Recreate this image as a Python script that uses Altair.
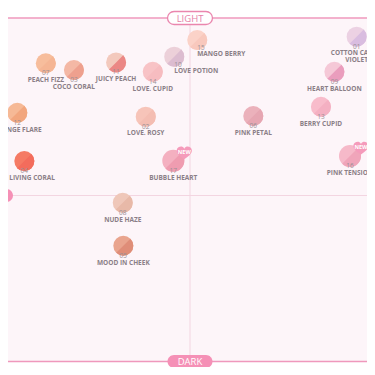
import altair as alt
import pandas as pd

# ---- data ----
codes = ["07", "03", "11", "14", "10", "15", "01", "09", "12", "02", "06", "13", "04", "17", "16", "08", "05"]
names = ["PEACH FIZZ", "COCO CORAL", "JUICY PEACH", "LOVE. CUPID", "LOVE POTION", "MANGO BERRY",
         "COTTON CANDY\nVIOLET", "HEART BALLOON", "ORANGE FLARE", "LOVE. ROSY", "PINK PETAL",
         "BERRY CUPID", "HOT LIVING CORAL", "BUBBLE HEART", "PINK TENSION", "NUDE HAZE", "MOOD IN CHEEK"]
warm_cool = [-7.59, -6.11, -3.89, -1.96, -0.83, 0.38, 8.77, 7.60, -9.09, -2.33, 3.33, 6.89,
             -8.72, -0.88, 8.42, -3.54, -3.51]
light_dark = [7.45, 7.07, 7.50, 6.97, 7.82, 8.76, 8.95, 6.97, 4.66, 4.44, 4.48, 5.00,
              1.94, 1.96, 2.23, -0.41, -2.83]
is_new = [False, False, False, False, False, False, False, False, False, False, False, False,
          False, True, True, False, False]
shade_main = ["#f7bd9c", "#f4b8a5", "#f3c9bd", "#f8c3c6", "#ecd0d9", "#fbd2c8", "#ecd1e3", "#f5c8d7",
              "#f6b996", "#f7c4b9", "#ebb1bb", "#f8bccb", "#f57a64", "#f4b0c0", "#f6b9c9", "#efc7b9", "#e9a48e"]
shade_accent = ["#f5b594", "#eea08e", "#eb8785", "#f6bcc0", "#dcbcd0", "#f8c8bd", "#d9bde0", "#ea9dbd",
                "#f2a67e", "#f4bdb2", "#e6a6b2", "#f4b0c2", "#f36c5c", "#ef9cb0", "#f0a5ba", "#e8b9a8", "#df8d78"]
left_aligned = ["LOVE POTION", "MANGO BERRY"]

axis_labels = ["LIGHT", "DARK", "WARM", "COOL"]
axis_wc = [0.0, 0.0, -10.5, 10.55]
axis_ld = [10.0, -9.35, 0.0, 0.0]
frame_top = 10.0
frame_bottom = -9.35

df = pd.DataFrame({"code": codes, "name": names, "wc": warm_cool, "ld": light_dark, "new": is_new})
df["left"] = df["name"].isin(left_aligned)
pills = pd.DataFrame({"label": axis_labels, "wc": axis_wc, "ld": axis_ld})

X = alt.X("wc:Q", scale=alt.Scale(domain=[-10, 10], range=[-8, 372], nice=False), axis=None)
Y = alt.Y("ld:Q", scale=alt.Scale(domain=[-10, 10], range=[365, 10], nice=False), axis=None)

font = "Open Sans"

bg = alt.Chart(pd.DataFrame({"wc": [-10.5], "wc2": [10.6], "ld": [frame_top], "ld2": [frame_bottom]})).mark_rect(
    color="#fdf5f9").encode(x=X, x2="wc2:Q", y=Y, y2="ld2:Q")

hline = alt.Chart(pd.DataFrame({"ld": [0.0]})).mark_rule(color="#f3d5e1", strokeWidth=1).encode(y=Y)
vline = alt.Chart(pd.DataFrame({"wc": [0.0], "ld": [frame_top], "ld2": [frame_bottom]})).mark_rule(
    color="#f3d5e1", strokeWidth=1).encode(x=X, y=Y, y2="ld2:Q")
frame = alt.Chart(pd.DataFrame({"ld": [frame_top, frame_bottom]})).mark_rule(
    color="#ef98bc", strokeWidth=1.5).encode(y=Y)

circles = alt.Chart(df).mark_circle(opacity=1).encode(
    x=X, y=Y,
    size=alt.condition("datum.new", alt.value(484), alt.value(400)),
    color=alt.Color("code:N", scale=alt.Scale(domain=codes, range=shade_main), legend=None),
)
arc_small = alt.Chart(df).transform_filter("!datum.new").mark_arc(
    radius=10, theta=0.785, theta2=3.927, opacity=1).encode(
    x=X, y=Y,
    color=alt.Color("code:N", scale=alt.Scale(domain=codes, range=shade_accent), legend=None),
)
arc_big = alt.Chart(df).transform_filter("datum.new").mark_arc(
    radius=11, theta=0.785, theta2=3.927, opacity=1).encode(
    x=X, y=Y,
    color=alt.Color("code:N", scale=alt.Scale(domain=codes, range=shade_accent), legend=None),
)

heart_path = ("M0,0.8 C-0.5,0.45 -1,0.1 -1,-0.35 C-1,-0.75 -0.55,-0.95 -0.25,-0.85 "
              "C-0.1,-0.8 0,-0.65 0,-0.55 C0,-0.65 0.1,-0.8 0.25,-0.85 "
              "C0.55,-0.95 1,-0.75 1,-0.35 C1,0.1 0.5,0.45 0,0.8 Z")
hearts = alt.Chart(df).transform_filter("datum.new").mark_point(
    shape=heart_path, filled=True, size=230, color="#f59bbb", opacity=1, xOffset=11, yOffset=-7.5
).encode(x=X, y=Y)
new_txt = alt.Chart(df).transform_filter("datum.new").mark_text(
    text="NEW", color="white", fontSize=5.5, fontWeight="bold", font=font, dx=11, dy=-8.5
).encode(x=X, y=Y)

num_c = alt.Chart(df).transform_filter("!datum.left").mark_text(
    fontSize=6.5, font=font, color="#9b9096", dy=12, baseline="alphabetic", align="center"
).encode(x=X, y=Y, text="code:N")
num_l = alt.Chart(df).transform_filter("datum.left").mark_text(
    fontSize=6.5, font=font, color="#9b9096", dy=10, baseline="alphabetic", align="left"
).encode(x=X, y=Y, text="code:N")
name_c = alt.Chart(df).transform_filter("!datum.left").mark_text(
    fontSize=6.5, font=font, fontWeight="bold", color="#8b7f87", dy=18.8, baseline="alphabetic",
    align="center", lineBreak="\n", lineHeight=7
).encode(x=X, y=Y, text="name:N")
name_l = alt.Chart(df).transform_filter("datum.left").mark_text(
    fontSize=6.5, font=font, fontWeight="bold", color="#8b7f87", dy=16.3, baseline="alphabetic",
    align="left"
).encode(x=X, y=Y, text="name:N")

pill_path = ("M-0.71,-0.289 L0.71,-0.289 A0.289,0.289 0 0 1 0.71,0.289 "
             "L-0.71,0.289 A0.289,0.289 0 0 1 -0.71,-0.289 Z")
pill_fill = alt.Chart(pills).mark_point(shape=pill_path, filled=True, size=2025, opacity=1, strokeWidth=0).encode(
    x=X, y=Y,
    color=alt.Color("label:N", scale=alt.Scale(domain=axis_labels,
                                                range=["#ffffff", "#f590b6", "#f590b6", "#bfb0ea"]), legend=None),
)
pill_ring = alt.Chart(pills).transform_filter("datum.label == 'LIGHT'").mark_point(
    shape=pill_path, filled=False, size=2025, color="#ea86ae", strokeWidth=1.3, opacity=1
).encode(x=X, y=Y)
pill_text = alt.Chart(pills).mark_text(fontSize=9.5, font=font, baseline="middle", dy=0.5).encode(
    x=X, y=Y, text="label:N",
    color=alt.Color("label:N", scale=alt.Scale(domain=axis_labels,
                                                range=["#e57fa9", "#ffffff", "#ffffff", "#ffffff"]), legend=None),
)

chart = alt.layer(
    bg, hline, vline, frame, circles, arc_small, arc_big, hearts, new_txt,
    num_c, num_l, name_c, name_l, pill_fill, pill_ring, pill_text
).resolve_scale(color="independent").properties(
    width=359, height=359, autosize="none", padding=0, background="#ffffff"
).configure_view(stroke=None)

chart.save("out.html", embed_options={"renderer": "svg", "actions": False})
